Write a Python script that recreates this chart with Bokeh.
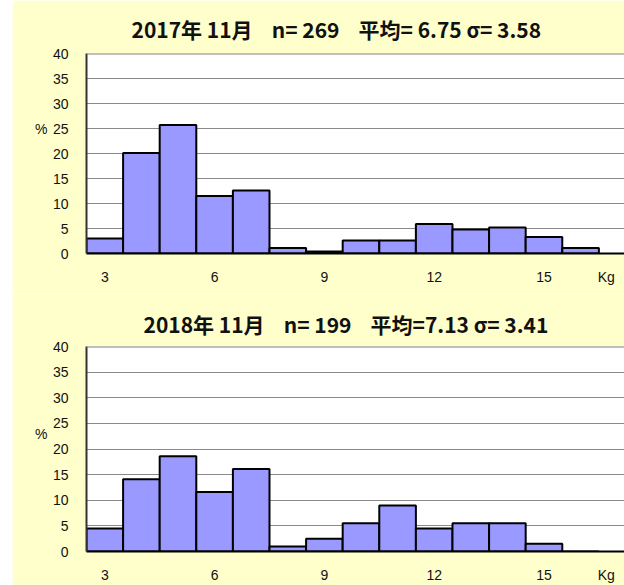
from bokeh.plotting import figure
from bokeh.models import Title, Range1d, FixedTicker, Spacer, LinearAxis, Span
from bokeh.layouts import column, row
from bokeh.embed import file_html
from bokeh.resources import INLINE

weights = [3, 4, 5, 6, 7, 8, 9, 10, 11, 12, 13, 14, 15, 16]
pct_2017 = [3.0, 20.1, 25.7, 11.5, 12.6, 1.1, 0.4, 2.6, 2.6, 5.9, 4.8, 5.2, 3.3, 1.1]
pct_2018 = [4.5, 14.1, 18.6, 11.6, 16.1, 1.0, 2.5, 5.5, 9.0, 4.5, 5.5, 5.5, 1.5, 0.0]
NB = "\u00a0"
title_2017 = f"2017年 11月{NB}{NB}{NB} n= 269{NB}{NB}{NB} 平均= 6.75 σ= 3.58"
title_2018 = f"2018年 11月{NB}{NB}{NB} n= 199{NB}{NB}{NB} 平均=7.13 σ= 3.41"
x_ticks = [3, 6, 9, 12, 15]
y_ticks = [0, 5, 10, 15, 20, 25, 30, 35, 40]
x_unit = "Kg"
y_unit = "%"

BG = "#FFFFCC"
BAR = "#9999FF"
TICK_FONT = "Liberation Sans"


def make_fig(values, title, width, height, b_left, b_top, b_bottom, title_standoff, title_offset, pct_y, kg_x):
    p = figure(width=width, height=height, output_backend="svg", toolbar_location=None,
               x_range=Range1d(2.5, 17.2), y_range=Range1d(0, 40),
               min_border_left=b_left, min_border_right=0,
               min_border_top=b_top, min_border_bottom=b_bottom)
    p.border_fill_color = BG
    p.background_fill_color = "white"
    p.outline_line_color = None
    t = Title(text=title, align="left", text_font="Noto Sans CJK JP",
              text_font_size="21px", text_font_style="bold", text_color="#111111",
              standoff=title_standoff, offset=title_offset)
    p.add_layout(t, "above")
    p.vbar(x=weights, top=values, width=1.0, bottom=0,
           fill_color=BAR, line_color="black", line_width=2)
    p.xgrid.grid_line_color = None
    p.ygrid.grid_line_color = "#8a8a8a"
    p.ygrid.grid_line_width = 1
    p.add_layout(Span(location=40, dimension="width", line_color="#808080", line_width=2))
    p.yaxis.ticker = FixedTicker(ticks=y_ticks)
    p.xaxis.ticker = FixedTicker(ticks=x_ticks + [kg_x])
    p.xaxis.major_label_overrides = {kg_x: x_unit}
    for ax in (p.xaxis, p.yaxis):
        ax.major_tick_line_color = None
        ax.minor_tick_line_color = None
        ax.major_label_text_font = TICK_FONT
        ax.major_label_text_font_size = "14px"
        ax.major_label_text_color = "#111111"
    p.yaxis.axis_line_color = "#333333"
    p.yaxis.axis_line_width = 2
    p.xaxis.axis_line_color = "black"
    p.xaxis.axis_line_width = 2
    p.yaxis.major_label_standoff = 12
    p.xaxis.major_label_standoff = 9
    pax = LinearAxis(ticker=FixedTicker(ticks=[pct_y]), major_label_overrides={pct_y: y_unit},
                     axis_line_color=None, major_tick_line_color=None,
                     minor_tick_line_color=None, major_label_standoff=-4,
                     major_label_text_font=TICK_FONT, major_label_text_font_size="14px",
                     major_label_text_color="#111111")
    p.add_layout(pax, "left")
    return p


p1 = make_fig(pct_2017, title_2017, 612, 293, 74, 53, 40, 20, 45, 25, 16.7)
p2 = make_fig(pct_2018, title_2018, 612, 292, 72, 53, 33, 15, 57, 23, 16.7)

layout = row(Spacer(width=12), column(p1, p2, spacing=0), spacing=0)

open("out.html", "w").write(file_html(layout, INLINE))
